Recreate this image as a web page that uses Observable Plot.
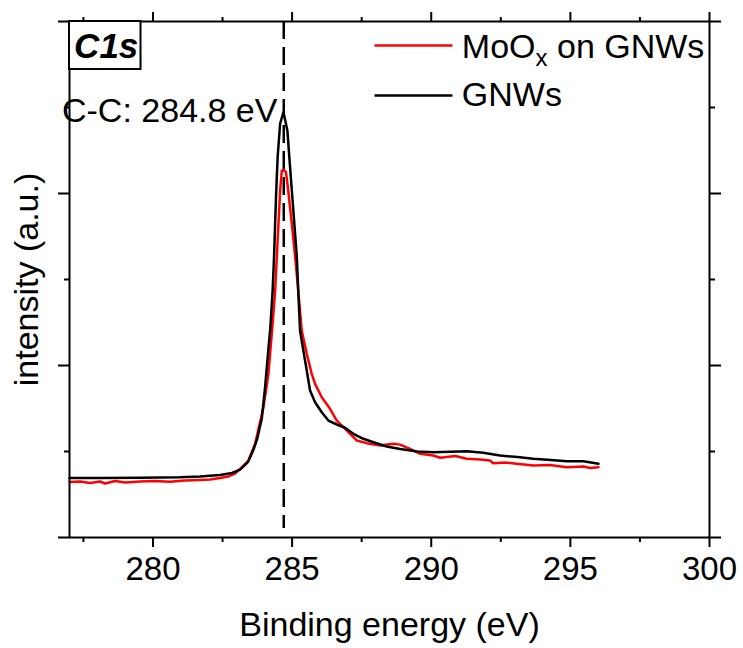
<!DOCTYPE html>
<html>
<head>
<meta charset="utf-8">
<script src="https://cdn.jsdelivr.net/npm/d3@7"></script>
<script src="https://cdn.jsdelivr.net/npm/@observablehq/plot@0.6"></script>
<style>
  html, body { margin: 0; padding: 0; background: #fff; }
  #chart svg { display: block; }
</style>
</head>
<body>
<div id="chart"></div>
<script>
// ---- Data ----
const energyGNWs = [277.00, 278.10, 279.53, 280.97, 281.69, 282.41, 282.84, 283.13, 283.42, 283.61, 283.74, 283.91, 284.03, 284.15, 284.22, 284.30, 284.35, 284.39, 284.43, 284.48, 284.57, 284.69, 284.83, 284.90, 284.99, 285.08, 285.17, 285.22, 285.285, 285.404, 285.526, 285.645, 285.825, 286.065, 286.303, 286.605, 286.903, 287.201, 287.561, 287.920, 288.402, 288.880, 289.50, 290.07, 290.70, 291.28, 291.87, 292.47, 293.10, 293.66, 294.30, 294.87, 295.47, 296.01];
const intensityGNWs = [0.692, 0.692, 0.694, 0.700, 0.709, 0.727, 0.750, 0.790, 0.880, 1.020, 1.140, 1.380, 1.750, 2.200, 2.450, 2.872, 3.259, 3.651, 4.035, 4.422, 4.814, 4.945, 4.733, 4.422, 4.035, 3.651, 3.259, 2.872, 2.407, 2.174, 1.942, 1.709, 1.573, 1.457, 1.360, 1.314, 1.276, 1.206, 1.148, 1.108, 1.058, 1.028, 1.000, 0.992, 0.998, 1.003, 0.985, 0.953, 0.935, 0.915, 0.900, 0.887, 0.887, 0.857];

const energyMoOx = [277.00, 277.38, 277.74, 278.10, 278.28, 278.64, 279.00, 279.53, 280.07, 280.61, 281.15, 281.69, 282.05, 282.41, 282.70, 282.95, 283.13, 283.43, 283.67, 283.97, 284.15, 284.30, 284.39, 284.45, 284.51, 284.57, 284.63, 284.69, 284.78, 284.86, 284.99, 285.11, 285.22, 285.346, 285.526, 285.706, 285.825, 286.065, 286.363, 286.605, 286.842, 287.083, 287.323, 287.683, 288.161, 288.639, 288.880, 289.24, 289.60, 290.07, 290.32, 290.86, 291.28, 291.76, 292.11, 292.23, 292.65, 293.07, 293.67, 294.27, 294.87, 295.47, 295.71, 296.01];
const intensityMoOx = [0.645, 0.651, 0.634, 0.651, 0.628, 0.657, 0.640, 0.651, 0.657, 0.648, 0.663, 0.669, 0.674, 0.692, 0.709, 0.744, 0.799, 0.895, 1.090, 1.515, 1.907, 2.488, 2.872, 3.259, 3.651, 4.035, 4.267, 4.276, 4.248, 4.035, 3.651, 3.259, 2.872, 2.407, 2.136, 1.903, 1.787, 1.631, 1.497, 1.360, 1.283, 1.206, 1.128, 1.097, 1.070, 1.090, 1.080, 1.031, 0.973, 0.953, 0.927, 0.948, 0.915, 0.907, 0.895, 0.864, 0.872, 0.857, 0.837, 0.843, 0.817, 0.826, 0.808, 0.817];

const xMajorTicks = [280, 285, 290, 295, 300];
const xMinorTicks = [277.5, 282.5, 287.5, 292.5, 297.5];
const yMajorTicks = [0, 2, 4, 6];
const yMinorTicks = [1, 3, 5];

const seriesNames = ["MoOx on GNWs", "GNWs"];
const seriesColors = ["red", "black"];

const peakLabel = "C-C: 284.8 eV";
const peakPosition = 284.7;
const panelLabel = "C1s";
const xTitle = "Binding energy (eV)";
const yTitle = "intensity (a.u.)";

// ---- Build tables ----
const gnws = energyGNWs.map((e, i) => ({energy: e, intensity: intensityGNWs[i]}));
const moox = energyMoOx.map((e, i) => ({energy: e, intensity: intensityMoOx[i]}));

// layout (annotation placement in data units)
const legendKeyX1 = 287.98, legendKeyX2 = 290.78, legendTextX = 291.10;
const legendKeyY = [5.721, 5.140];
const legendTextY = [5.578, 5.012];
const legend = seriesNames.map((n, i) => ({name: n, color: seriesColors[i], ky: legendKeyY[i], ty: legendTextY[i]}));

const FONT = "Arial, 'Liberation Sans', sans-serif";

const plot = Plot.plot({
  width: 743,
  height: 648,
  marginLeft: 69,
  marginRight: 34,
  marginTop: 21,
  marginBottom: 111,
  style: {fontFamily: FONT, fontSize: "33px", color: "black", background: "white"},
  x: {domain: [277, 300]},
  y: {domain: [0, 6]},
  marks: [
    // axes ticks (outward, mirrored)
    Plot.axisX(xMajorTicks, {anchor: "bottom", tickSize: 10, tickPadding: 9, fontSize: 33, strokeWidth: 2, label: null, tickFormat: d => String(d)}),
    Plot.axisX(xMinorTicks, {anchor: "bottom", tickSize: 5, text: null, strokeWidth: 2, label: null}),
    Plot.axisX(xMajorTicks, {anchor: "top", tickSize: 10, text: null, strokeWidth: 2, label: null}),
    Plot.axisX(xMinorTicks, {anchor: "top", tickSize: 5, text: null, strokeWidth: 2, label: null}),
    Plot.axisY(yMajorTicks, {anchor: "left", tickSize: 11, text: null, strokeWidth: 2, label: null}),
    Plot.axisY(yMinorTicks, {anchor: "left", tickSize: 5, text: null, strokeWidth: 2, label: null}),
    Plot.axisY(yMajorTicks, {anchor: "right", tickSize: 11, text: null, strokeWidth: 2, label: null}),
    Plot.axisY(yMinorTicks, {anchor: "right", tickSize: 5, text: null, strokeWidth: 2, label: null}),
    // dashed reference line
    Plot.ruleX([peakPosition], {y1: 6, y2: 0.105, stroke: "black", strokeWidth: 2.5, strokeDasharray: "18,8"}),
    // spectra
    Plot.line(moox, {x: "energy", y: "intensity", stroke: seriesColors[0], strokeWidth: 2.5}),
    Plot.line(gnws, {x: "energy", y: "intensity", stroke: seriesColors[1], strokeWidth: 2.5}),
    // frame
    Plot.frame({stroke: "black", strokeWidth: 2}),
    // panel label box
    Plot.rect([0], {x1: 277, x2: 279.57, y1: 5.442, y2: 6, fill: "white", stroke: "black", strokeWidth: 2}),
    Plot.text([panelLabel], {x: 278.32, y: 5.581, text: d => d, fontSize: 35, fontWeight: "bold", fontStyle: "italic", lineAnchor: "bottom", textAnchor: "middle", fill: "black"}),
    // peak label
    Plot.text([peakLabel], {x: 276.73, y: 4.826, text: d => d, fontSize: 34, lineAnchor: "bottom", textAnchor: "start", fill: "black"}),
    // legend
    Plot.ruleY(legend, {y: "ky", x1: legendKeyX1, x2: legendKeyX2, stroke: "color", strokeWidth: 2.5}),
    Plot.text(legend, {x: legendTextX, y: "ty", text: "name", fontSize: 34, lineAnchor: "bottom", textAnchor: "start", fill: "black"}),
    // axis titles
    Plot.text([xTitle], {frameAnchor: "bottom", dy: 98, text: d => d, fontSize: 34, lineAnchor: "bottom", textAnchor: "middle", fill: "black"}),
    Plot.text([yTitle], {frameAnchor: "left", dx: -32, rotate: -90, text: d => d, fontSize: 34, lineAnchor: "bottom", textAnchor: "middle", fill: "black"})
  ]
});

// subscript x in legend label
d3.select(plot).selectAll("text").filter(function() { return this.textContent === "MoOx on GNWs"; })
  .each(function() {
    const t = d3.select(this);
    t.text(null);
    t.append("tspan").text("MoO");
    t.append("tspan").attr("dy", 8).attr("font-size", 24).text("x");
    t.append("tspan").attr("dy", -8).text(" on GNWs");
  });

document.getElementById("chart").appendChild(plot);
</script>
</body>
</html>
